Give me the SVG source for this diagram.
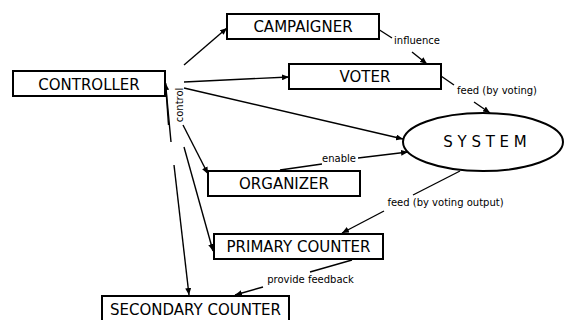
<svg xmlns="http://www.w3.org/2000/svg" width="564" height="320" viewBox="0 0 564 320">
  <style>
    .box { fill: #ffffff; stroke: #000000; stroke-width: 2; }
    .lbl { font-family: "DejaVu Sans", "Liberation Sans", sans-serif; font-size: 15px; fill: #000000; text-anchor: middle; }
    .small { font-family: "DejaVu Sans", "Liberation Sans", sans-serif; font-size: 10px; fill: #000000; text-anchor: middle; }
    .edge { stroke: #000000; stroke-width: 1.4; fill: none; }
    .arr { marker-end: url(#head); }
  </style>
  <defs>
    <marker id="head" markerUnits="userSpaceOnUse" markerWidth="8" markerHeight="6" refX="7" refY="3" orient="auto">
      <path d="M0,0 L7,3 L0,6 Z" fill="#000000"/>
    </marker>
  </defs>
  <rect width="564" height="320" fill="#ffffff"/>

  <!-- connectors -->
  <g id="connectors">
    <!-- from CONTROLLER -->
    <line class="edge arr" x1="184" y1="65" x2="227" y2="28"/>
    <line class="edge arr" x1="184" y1="82" x2="289" y2="77"/>
    <line class="edge arr" x1="184" y1="88" x2="403" y2="139"/>
    <line class="edge arr" x1="183" y1="125" x2="208" y2="174"/>
    <line class="edge arr" x1="184" y1="147" x2="213" y2="251"/>
    <line class="edge arr" x1="174" y1="165" x2="189" y2="295"/>
    <line class="edge arr" x1="171" y1="142" x2="165.5" y2="83"/>
    <line class="edge" x1="168.5" y1="125" x2="165.5" y2="83"/>
    <!-- influence -->
    <line class="edge" x1="378" y1="29" x2="392" y2="38"/>
    <line class="edge arr" x1="412" y1="52" x2="427" y2="64"/>
    <!-- feed (by voting) -->
    <line class="edge" x1="441" y1="76" x2="454" y2="85"/>
    <line class="edge arr" x1="474" y1="102" x2="490" y2="113"/>
    <!-- enable -->
    <line class="edge" x1="280" y1="170" x2="322" y2="164"/>
    <line class="edge arr" x1="358" y1="158" x2="408" y2="152"/>
    <!-- feed (by voting output) -->
    <line class="edge" x1="460" y1="171" x2="413" y2="195"/>
    <line class="edge arr" x1="384" y1="211" x2="342" y2="233"/>
    <!-- provide feedback -->
    <line class="edge" x1="352" y1="260" x2="310" y2="272"/>
    <line class="edge arr" x1="263" y1="287" x2="235" y2="295"/>

    <text class="small" transform="translate(182.5,105) rotate(-90)">control</text>
    <text class="small" x="417" y="44">influence</text>
    <text class="small" x="497" y="94">feed (by voting)</text>
    <text class="small" x="339" y="162">enable</text>
    <text class="small" x="445.5" y="206">feed (by voting output)</text>
    <text class="small" x="310.5" y="283">provide feedback</text>
  </g>

  <g id="controller">
    <rect class="box" x="13" y="71" width="152" height="25"/>
    <text class="lbl" x="89" y="89.5">CONTROLLER</text>
  </g>
  <g id="campaigner">
    <rect class="box" x="227" y="14" width="152" height="25"/>
    <text class="lbl" x="303" y="32">CAMPAIGNER</text>
  </g>
  <g id="voter">
    <rect class="box" x="289" y="64" width="152" height="25"/>
    <text class="lbl" x="365" y="82">VOTER</text>
  </g>
  <g id="system">
    <ellipse class="box" cx="483" cy="142" rx="80" ry="29"/>
    <text class="lbl" x="485" y="146.5">S Y S T E M</text>
  </g>
  <g id="organizer">
    <rect class="box" x="208" y="171" width="152" height="25"/>
    <text class="lbl" x="284" y="189">ORGANIZER</text>
  </g>
  <g id="primary-counter">
    <rect class="box" x="214" y="234" width="169" height="25"/>
    <text class="lbl" x="298.5" y="252">PRIMARY COUNTER</text>
  </g>
  <g id="secondary-counter">
    <rect class="box" x="102" y="296" width="187" height="26"/>
    <text class="lbl" x="195.5" y="314.5">SECONDARY COUNTER</text>
  </g>
</svg>
